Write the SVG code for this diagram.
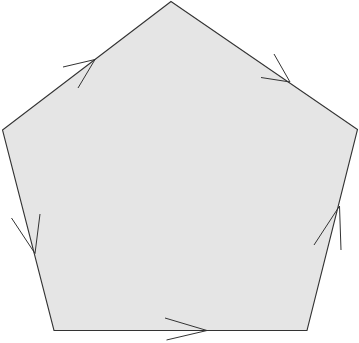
<svg xmlns="http://www.w3.org/2000/svg" width="359" height="343" viewBox="0 0 359 343">
<style>
.shape{fill:#e5e5e5;stroke:#333;stroke-width:1.1;stroke-linejoin:miter}
.arr{fill:none;stroke:#333;stroke-width:1}
</style>
<rect width="359" height="343" fill="#fff"/>
<g id="pentagon">
<polygon class="shape" points="171,1.5 357.5,129.5 307,330.5 54,330.5 2.5,130"/>
</g>
<g id="arrows">
<polyline class="arr" points="63,67 95,59.5 78,88"/>
<polyline class="arr" points="274,54 290,82 261,77.5"/>
<polyline class="arr" points="314,245 339.5,206 341,250"/>
<polyline class="arr" points="165,318 207,330.5 166.5,340"/>
<polyline class="arr" points="11.5,218 35,253.5 40,214"/>
</g>
</svg>
